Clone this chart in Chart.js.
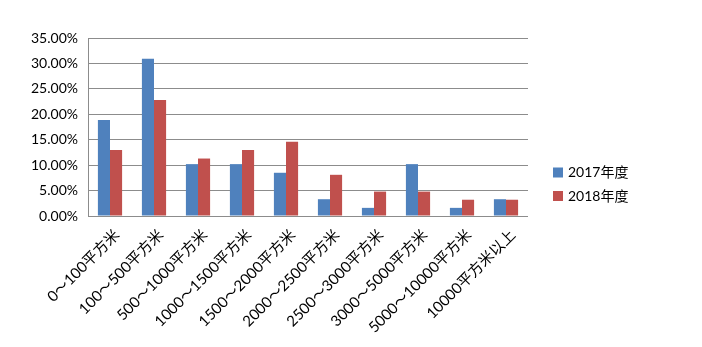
<!DOCTYPE html>
<html>
<head>
<meta charset="utf-8">
<script src="https://cdn.jsdelivr.net/npm/chart.js@4"></script>
<style>
  html, body { margin: 0; padding: 0; background: #fff; }
  #wrap { width: 702px; height: 347px; }
</style>
</head>
<body>
<div id="wrap"><canvas id="areaChart" width="702" height="347"></canvas></div>
<script>
// categories and values (percent)
const categories = ['0～100平方米', '100～500平方米', '500～1000平方米', '1000～1500平方米', '1500～2000平方米',
  '2000～2500平方米', '2500～3000平方米', '3000～5000平方米', '5000～10000平方米', '10000平方米以上'];
const seriesNames = ['2017年度', '2018年度'];
const values2017 = [18.9, 30.9, 10.2, 10.2, 8.5, 3.3, 1.6, 10.2, 1.6, 3.3];
const values2018 = [13.0, 22.8, 11.3, 13.0, 14.6, 8.1, 4.8, 4.8, 3.2, 3.2];
const yTicks = [0, 5, 10, 15, 20, 25, 30, 35];

const colors = ['#4F81BD', '#C0504D'];
const fontFamily = "Lato, 'Noto Sans CJK SC', sans-serif";

// simple legend on the right side
const sideLegend = {
  id: 'sideLegend',
  afterDraw(chart) {
    const c = chart.ctx;
    const x = chart.chartArea.right + 25;
    const ys = [172.5, 196];
    c.save();
    c.font = '14px ' + fontFamily;
    c.textBaseline = 'middle';
    chart.data.datasets.forEach((ds, i) => {
      c.fillStyle = ds.backgroundColor;
      c.fillRect(x, ys[i] - 5, 10, 10);
      c.fillStyle = '#000';
      c.fillText(ds.label, x + 15, ys[i]);
    });
    c.restore();
  }
};

const ctx = document.getElementById('areaChart').getContext('2d');
const areaChart = new Chart(ctx, {
  type: 'bar',
  data: {
    labels: categories,
    datasets: [
      { label: seriesNames[0], data: values2017, backgroundColor: colors[0] },
      { label: seriesNames[1], data: values2018, backgroundColor: colors[1] }
    ]
  },
  options: {
    responsive: false,
    animation: false,
    categoryPercentage: 0.55,
    barPercentage: 1,
    layout: { padding: { left: 0, right: 174, top: 38, bottom: 0 } },
    plugins: {
      legend: { display: false },
      tooltip: { enabled: false }
    },
    scales: {
      x: {
        grid: { display: false, drawTicks: false },
        border: { display: false },
        ticks: {
          autoSkip: false,
          minRotation: 45,
          maxRotation: 45,
          padding: 10,
          labelOffset: 7,
          color: '#000',
          font: { family: fontFamily, size: 15 }
        },
        afterFit(scale) { scale.height = 131; }
      },
      y: {
        min: 0,
        max: 35,
        afterBuildTicks(scale) { scale.ticks = yTicks.map(v => ({ value: v })); },
        grid: { color: '#8c8c8c', drawTicks: false },
        border: { display: true, color: '#8c8c8c' },
        ticks: {
          padding: 10,
          color: '#000',
          font: { family: fontFamily, size: 14 },
          callback: v => v.toFixed(2) + '%'
        },
        afterFit(scale) { scale.width = 88; }
      }
    }
  },
  plugins: [sideLegend]
});
</script>
</body>
</html>
